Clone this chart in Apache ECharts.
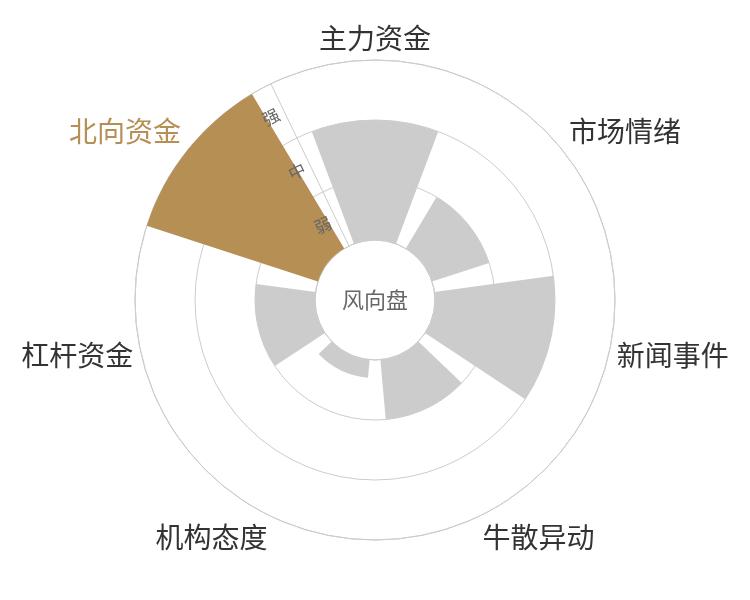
<!DOCTYPE html>
<html>
<head>
<meta charset="utf-8">
<script src="https://cdn.jsdelivr.net/npm/echarts@6/dist/echarts.min.js"></script>
<style>html,body{margin:0;padding:0;background:#fff}#main{width:750px;height:600px}</style>
</head>
<body>
<div id="main"></div>
<script>
const categories = ['主力资金', '市场情绪', '新闻事件', '牛散异动', '机构态度', '杠杆资金', '北向资金'];
const levels = ['弱', '中', '强'];
const values = [2, 1, 2, 1, 0.3, 1, 3];
const highlighted = '北向资金';
const centerText = '风向盘';

const GOLD = '#b58f54';
const GRAY = '#cccccc';
const FONT = '"Noto Sans CJK SC", "Noto Sans", sans-serif';
const startAngle = 90 + 360 / categories.length / 2;

const chart = echarts.init(document.getElementById('main'));
chart.setOption({
  backgroundColor: '#fff',
  animation: false,
  title: {
    text: centerText,
    left: 'center',
    top: 'middle',
    textStyle: { color: '#666', fontSize: 22, fontWeight: 'normal', fontFamily: FONT }
  },
  polar: [
    { center: ['50%', '50%'], radius: [60, 240] },
    { center: ['50%', '50%'], radius: [60, 240] }
  ],
  angleAxis: [
    {
      polarIndex: 0,
      type: 'category',
      data: categories,
      startAngle: startAngle,
      clockwise: true,
      axisLine: { show: true, lineStyle: { color: '#cccccc', width: 1 } },
      axisTick: { show: false },
      splitLine: { show: false },
      axisLabel: {
        fontSize: 28,
        fontFamily: FONT,
        margin: 8,
        color: '#333',
        formatter: function (v) { return v === highlighted ? '{hl|' + v + '}' : v; },
        rich: {
          hl: { color: GOLD, fontSize: 28, fontFamily: FONT }
        }
      }
    },
    {
      polarIndex: 1,
      type: 'category',
      data: categories,
      startAngle: startAngle,
      show: false
    }
  ],
  radiusAxis: [
    {
      polarIndex: 0,
      type: 'value',
      min: 0,
      max: 3,
      interval: 1,
      axisLine: { show: true, lineStyle: { color: '#cccccc', width: 1 } },
      axisTick: { show: false },
      axisLabel: { show: false },
      splitLine: { show: true, lineStyle: { color: '#cccccc', width: 1 } }
    },
    {
      polarIndex: 1,
      type: 'category',
      data: levels,
      z: 10,
      axisLine: { show: false },
      axisTick: { show: false },
      splitLine: { show: false },
      axisLabel: { color: '#666', fontSize: 17, fontFamily: FONT, rotate: startAngle - 90, margin: 6 }
    }
  ],
  series: [
    {
      type: 'bar',
      coordinateSystem: 'polar',
      polarIndex: 0,
      barCategoryGap: '20%',
      data: values.map(function (v, i) {
        return {
          value: v,
          itemStyle: { color: categories[i] === highlighted ? GOLD : GRAY }
        };
      })
    }
  ]
});
</script>
</body>
</html>
